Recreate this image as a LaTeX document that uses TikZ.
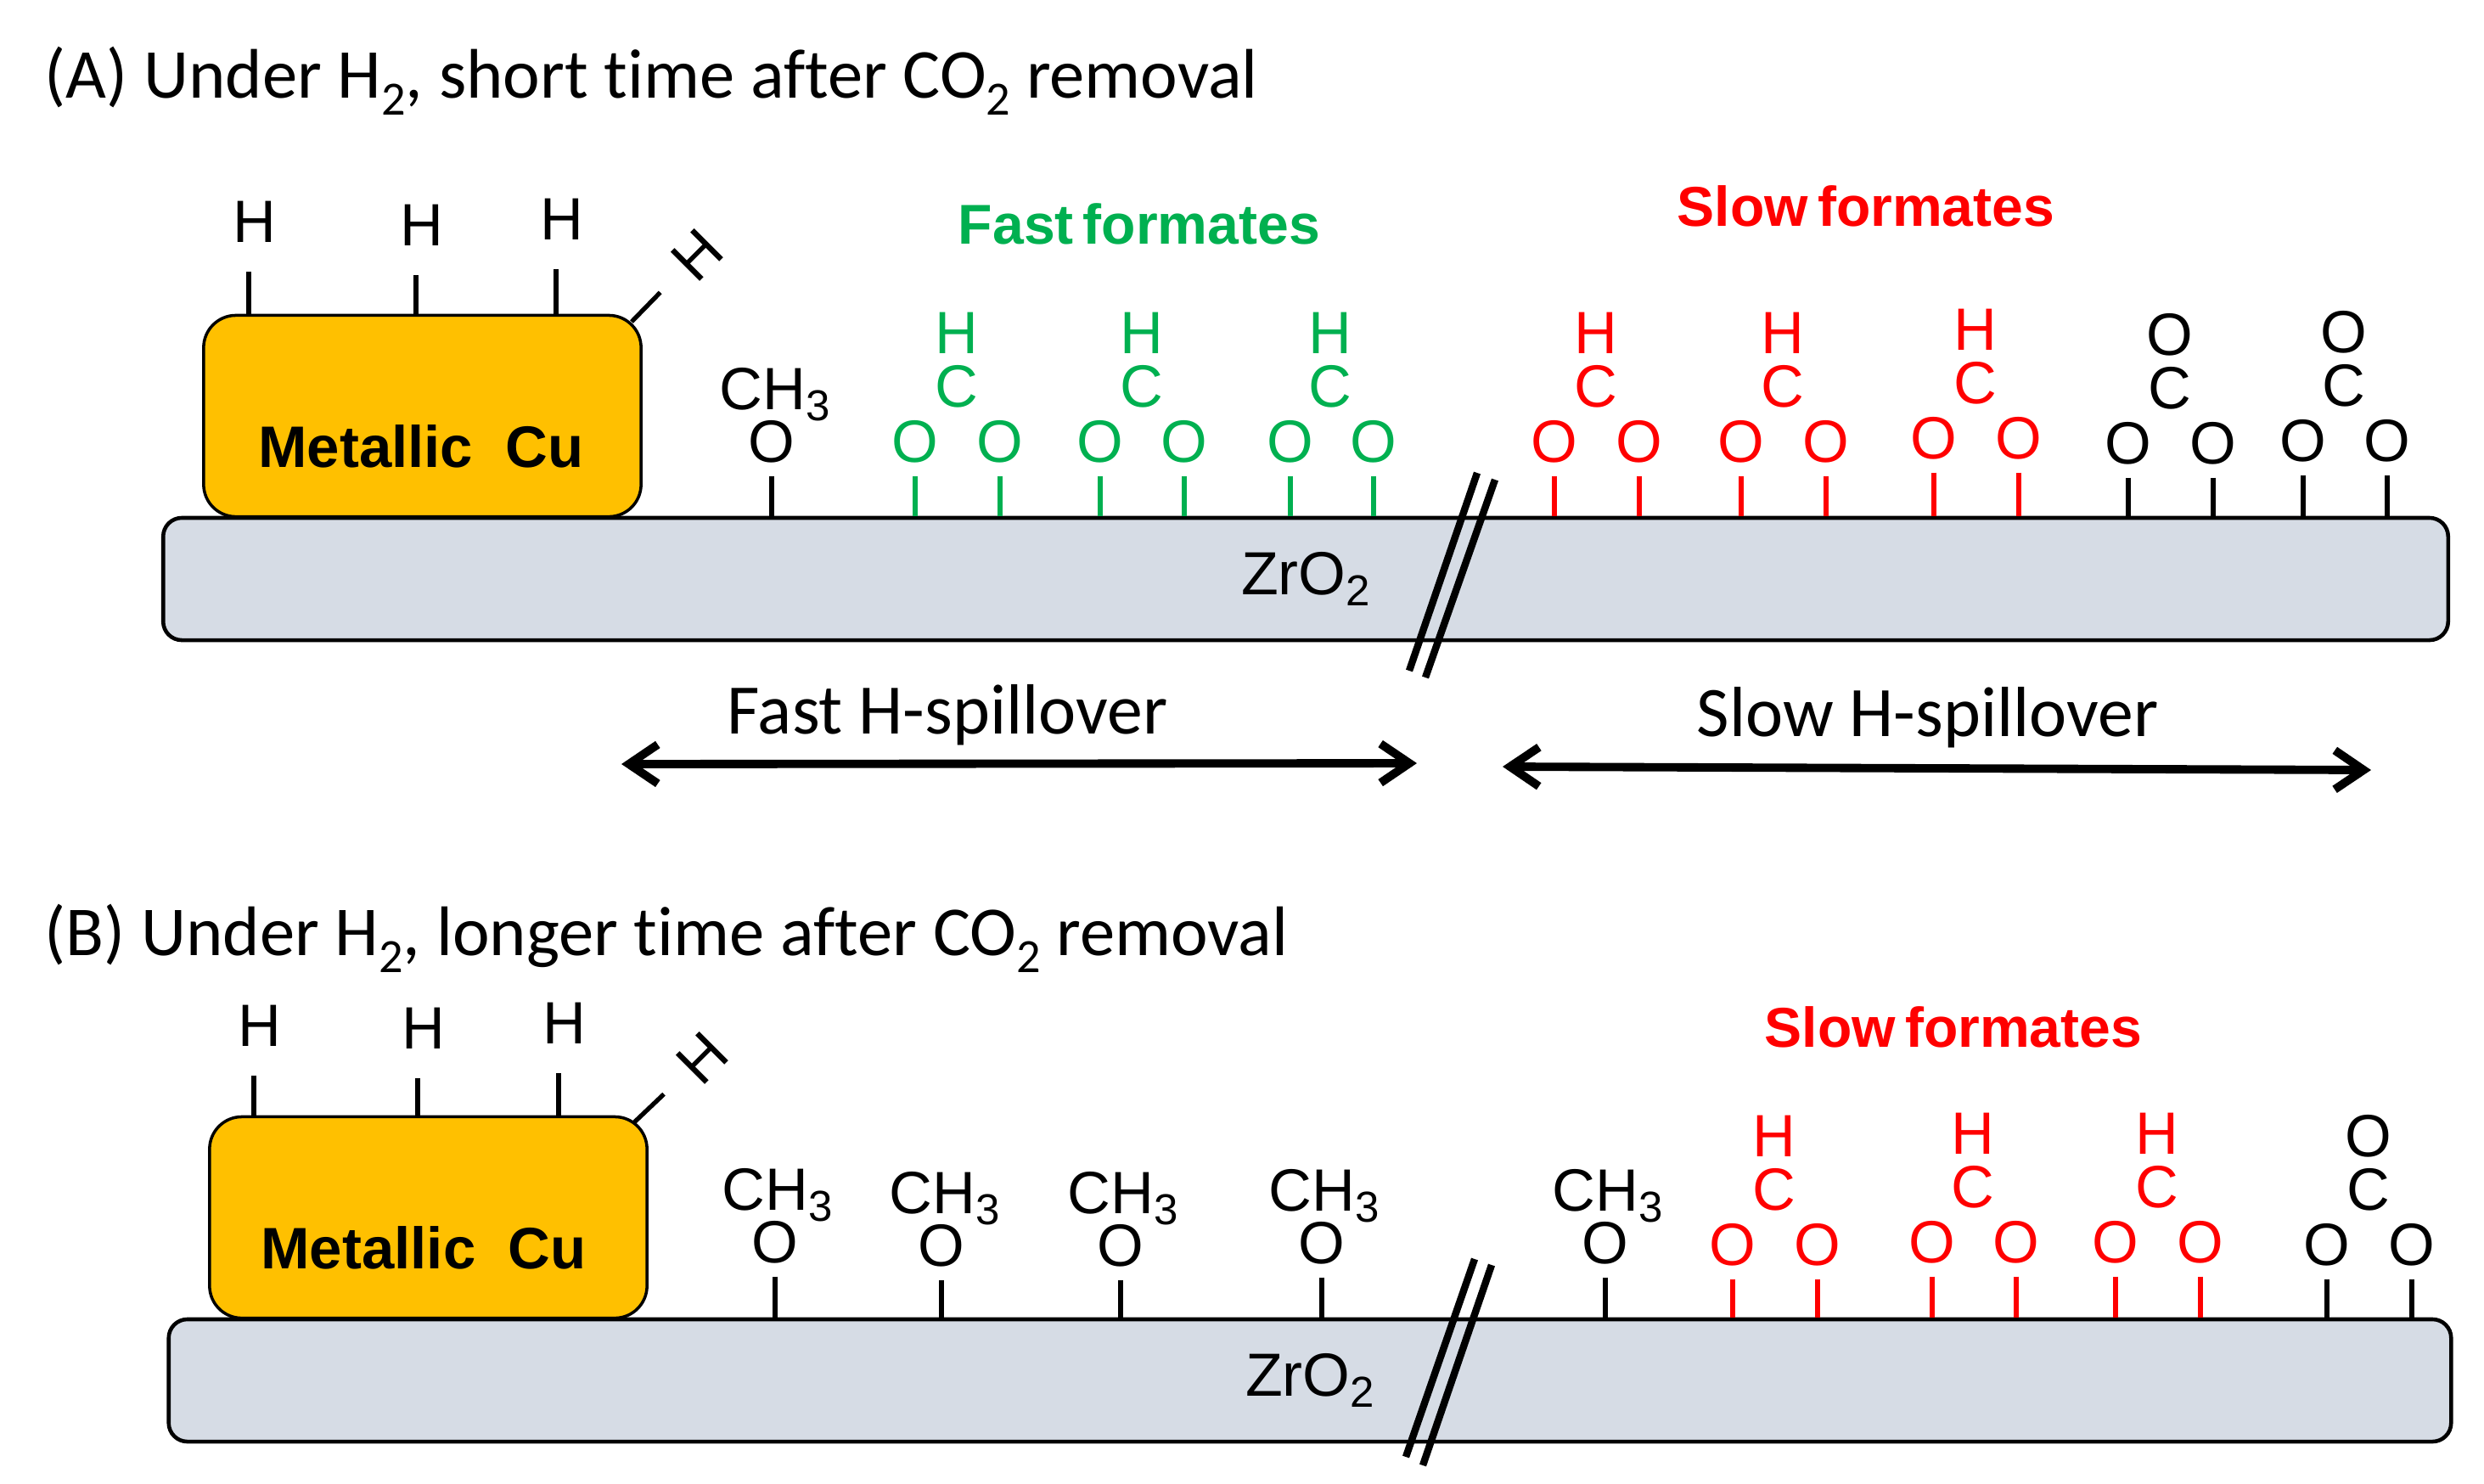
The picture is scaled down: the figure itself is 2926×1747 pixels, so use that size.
\documentclass[tikz,border=0pt]{standalone}
\usepackage{fontspec}
\setmainfont{Liberation Sans}
\newfontfamily\titlefont[Ligatures=NoCommon]{Carlito}
\usetikzlibrary{arrows.meta}
\definecolor{cuorange}{HTML}{FFC000}
\definecolor{zrgray}{HTML}{D6DCE5}
\definecolor{fastgreen}{HTML}{00B050}
\newcommand{\headsub}[1]{\raisebox{-.25em}{\fontsize{16}{18}\selectfont #1}}
\newcommand{\atomsub}[1]{\raisebox{-.19em}{\fontsize{14.5}{16}\selectfont #1}}
\tikzset{
  atomlbl/.style={inner sep=0pt,font=\fontsize{20}{24}\selectfont},
  headlbl/.style={inner sep=0pt,anchor=base west,font=\titlefont\fontsize{23.5}{28}\selectfont},
  spilllbl/.style={inner sep=0pt,anchor=base west,font=\titlefont\fontsize{23.8}{28}\selectfont},
  typelbl/.style={inner sep=0pt,font=\bfseries\fontsize{18.8}{22}\selectfont},
  culbl/.style={inner sep=0pt,font=\bfseries\fontsize{19.6}{24}\selectfont},
  cubox/.style={draw,line width=1pt,fill=cuorange,rounded corners=.38cm,minimum width=5.15cm,minimum height=2.37cm},
  zrbar/.style={draw,line width=1.3pt,fill=zrgray,rounded corners=.22cm,minimum height=1.44cm,inner sep=0pt,font=\fontsize{20.4}{24}\selectfont},
  bond/.style={line width=1.5pt,shorten <=.15cm},
  cubond/.style={line width=1.5pt,shorten <=.34cm},
  breakln/.style={line width=2.4pt},
  spill/.style={line width=2.8pt,{Straight Barb[length=.34cm,width=.46cm]}-{Straight Barb[length=.34cm,width=.46cm]}},
}
\begin{document}
\begin{tikzpicture}[x=.01cm,y=-.01cm]
\useasboundingbox (0,0) rectangle (2926,1747);

\node[headlbl] (headA) at (52,115) {(A) Under H\headsub{2}, short time after CO\headsub{2} removal};
\node[headlbl] (headB) at (52,1125) {(B) Under H\headsub{2}, longer time after CO\headsub{2} removal};

%support and copper
\node[cubox] (cuA) at (497.5,490) {};
\node[cubox] (cuB) at (504.5,1434) {};
\node[zrbar,minimum width=26.9cm] (barA) at (1538,682) {ZrO\atomsub{2}};
\node[zrbar,minimum width=26.87cm] (barB) at (1543,1626) {ZrO\atomsub{2}};
\node[culbl] (metalA) at (496,526) {Metallic~~Cu};
\node[culbl] (metalB) at (499,1470) {Metallic~~Cu};

\node[typelbl,text=fastgreen] (fastA) at (1342,264) {Fast\,formates};
\node[typelbl,text=red] (slowA) at (2198,243) {Slow\,formates};
\node[typelbl,text=red] (slowB) at (2301,1210) {Slow\,formates};

%H atoms on the copper
\foreach \nm/\hx/\hy/\cu in {a/300/261/cuA,b/497/265/cuA,c/662/258/cuA,d/306/1208/cuB,e/499/1211/cuB,f/665/1205/cuB}{
  \node[atomlbl] (h\nm) at (\hx,\hy) {H};
  \draw[cubond] ([xshift=-.07cm]h\nm.south) -- ([xshift=-.07cm]h\nm.south |- \cu.north);
}
\node[atomlbl,rotate=45] (hrotA) at (821,300) {H};
\node[atomlbl,rotate=45] (hrotB) at (827,1246) {H};
\coordinate (edgeA) at (744,379);
\coordinate (edgeB) at (747,1322);
\draw[line width=1.5pt,shorten >=.62cm] (edgeA) -- (hrotA.center);
\draw[line width=1.5pt,shorten >=.62cm] (edgeB) -- (hrotB.center);

%methoxy groups
\foreach \nm/\cx/\by/\ox/\zr in {m1/847/482/909/barA,m2/850/1425/913/barB,m3/1047/1429/1109/barB,m4/1257/1429/1320/barB,m5/1494/1426/1557/barB,m6/1828/1426/1891/barB}{
  \node[atomlbl,anchor=base west] (ch\nm) at (\cx,\by) {CH\atomsub{3}};
  \node[atomlbl] (o\nm) at (\ox,\by+38) {O};
  \draw[bond] (o\nm.south) -- (o\nm.south |- \zr.north);
}

%formates and carbonates
\foreach \nm/\colr/\tp/\cx/\oa/\ob/\oy/\zr in {
  g1/fastgreen/H/1127/1078/1178/520/barA,
  g2/fastgreen/H/1345/1296/1395/520/barA,
  g3/fastgreen/H/1567/1520/1618/520/barA,
  r1/red/H/1880/1831/1931/520/barA,
  r2/red/H/2100/2051/2151/520/barA,
  r3/red/H/2327/2278/2378/516/barA,
  k1/black/O/2556/2507/2607/522/barA,
  k2/black/O/2761/2713/2812/519/barA,
  r4/red/H/2090/2041/2141/1466/barB,
  r5/red/H/2324/2276/2375/1463/barB,
  r6/red/H/2541/2492/2592/1463/barB,
  k3/black/O/2790/2741/2841/1466/barB}{
  \node[atomlbl,text=\colr] (top\nm) at (\cx,\oy-128) {\tp};
  \node[atomlbl,text=\colr] (c\nm) at (\cx,\oy-65) {C};
  \node[atomlbl,text=\colr] (oa\nm) at (\oa,\oy) {O};
  \node[atomlbl,text=\colr] (ob\nm) at (\ob,\oy) {O};
  \draw[bond,\colr] (oa\nm.south) -- (oa\nm.south |- \zr.north);
  \draw[bond,\colr] (ob\nm.south) -- (ob\nm.south |- \zr.north);
}

%breaks in the support
\coordinate (brA1) at (1740,557); \coordinate (brA2) at (1660,790);
\coordinate (brA3) at (1761,565); \coordinate (brA4) at (1679,798);
\coordinate (brB1) at (1737,1483); \coordinate (brB2) at (1656,1716);
\coordinate (brB3) at (1757,1490); \coordinate (brB4) at (1676,1726);
\draw[breakln] (brA1) -- (brA2);
\draw[breakln] (brA3) -- (brA4);
\draw[breakln] (brB1) -- (brB2);
\draw[breakln] (brB3) -- (brB4);

%spillover ranges
\coordinate (fastL) at (732,900); \coordinate (fastR) at (1669,899);
\coordinate (slowL) at (1770,903); \coordinate (slowR) at (2793,907);
\draw[spill] (fastL) -- (fastR);
\draw[spill] (slowL) -- (slowR);
\node[spilllbl] (fasttxt) at (856,864) {Fast H-spillover};
\node[spilllbl] (slowtxt) at (1998,867) {Slow H-spillover};
\end{tikzpicture}
\end{document}
